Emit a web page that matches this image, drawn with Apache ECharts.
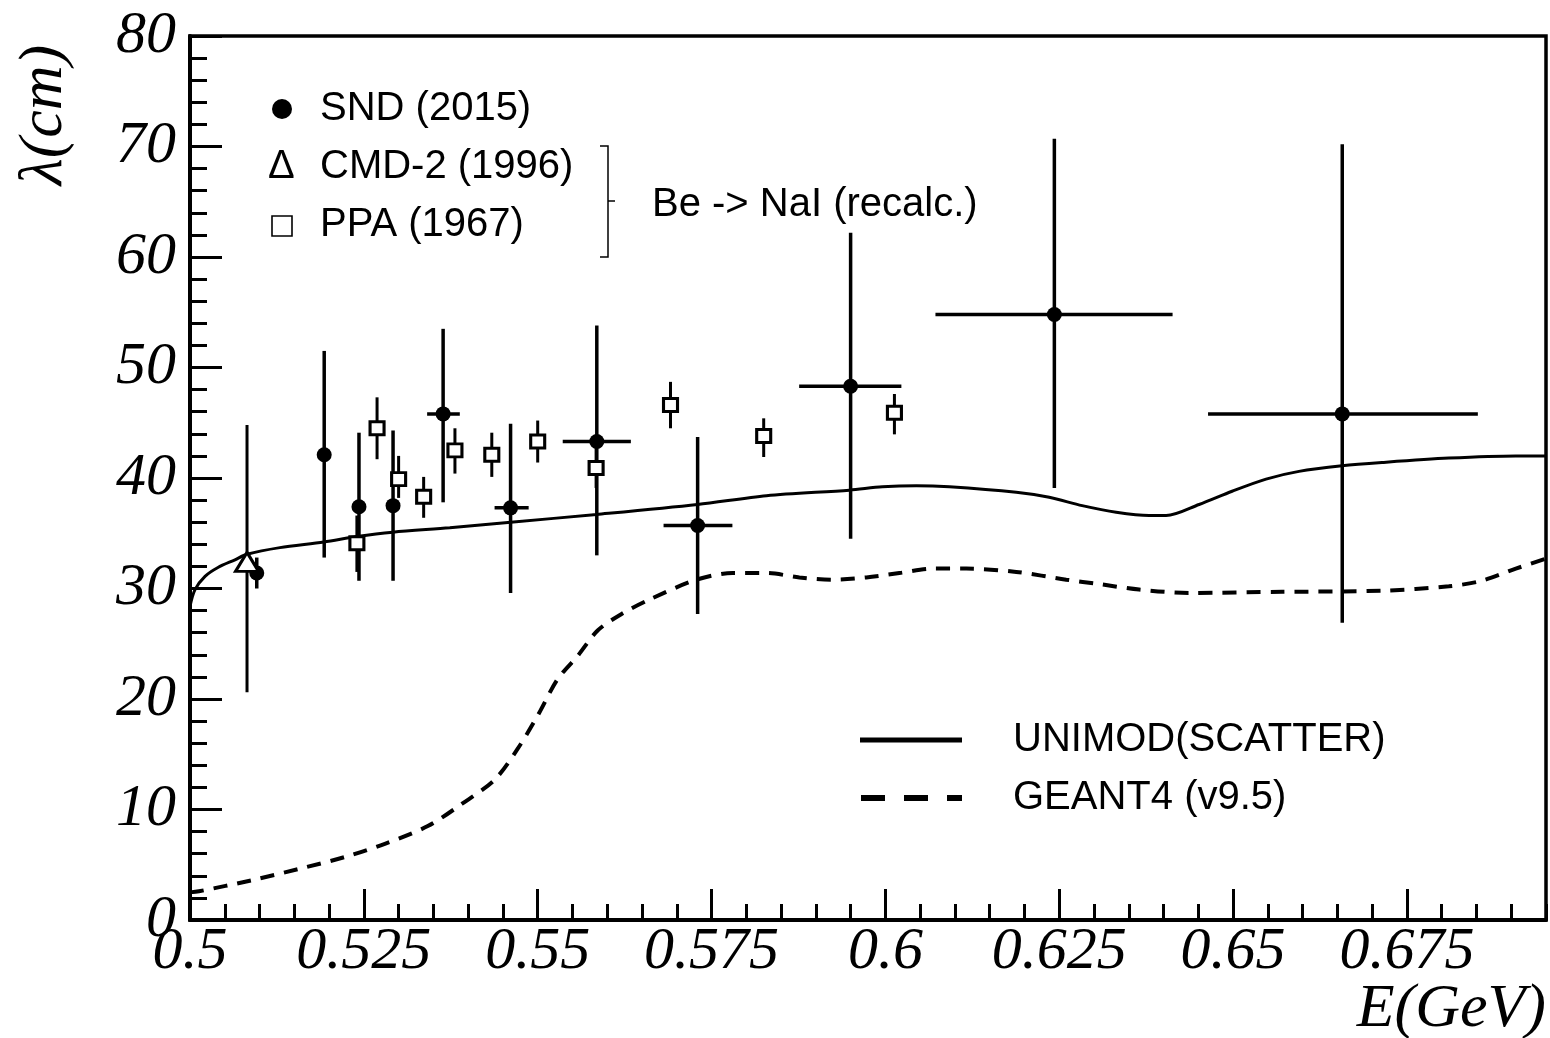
<!DOCTYPE html>
<html>
<head>
<meta charset="utf-8">
<script src="https://cdn.jsdelivr.net/npm/echarts@6/dist/echarts.min.js"></script>
<style>
html,body{margin:0;padding:0;background:#fff;}
#chart{width:1550px;height:1038px;}
</style>
</head>
<body>
<div id="chart"></div>
<script>
// ---- SND (2015): filled circles ----
const sndE      = [0.5096, 0.5193, 0.5243, 0.5292, 0.5364, 0.5461, 0.5585, 0.5730, 0.5950, 0.6243, 0.6657];
const sndLam    = [31.4, 42.1, 37.4, 37.5, 45.8, 37.3, 43.3, 35.7, 48.3, 54.8, 45.8];
const sndLamLo  = [30.0, 32.8, 30.7, 30.7, 37.8, 29.6, 33.0, 27.7, 34.5, 39.1, 26.9];
const sndLamHi  = [32.8, 51.5, 44.1, 44.3, 53.5, 44.9, 53.8, 43.7, 62.2, 70.7, 70.2];
const sndELo    = [null, null, null, null, 0.5341, 0.5438, 0.5536, 0.5681, 0.5876, 0.6072, 0.6464];
const sndEHi    = [null, null, null, null, 0.5388, 0.5487, 0.5634, 0.5780, 0.6023, 0.6413, 0.6852];

// ---- CMD-2 (1996): open triangle ----
const cmdE     = [0.5082];
const cmdLam   = [32.4];
const cmdLamLo = [20.6];
const cmdLamHi = [44.8];

// ---- PPA (1967): open squares ----
const ppaE     = [0.5240, 0.5269, 0.5300, 0.5336, 0.5381, 0.5434, 0.5500, 0.5584, 0.5691, 0.5825, 0.6013];
const ppaLam   = [34.1, 44.5, 39.9, 38.3, 42.5, 42.1, 43.3, 40.9, 46.6, 43.8, 45.9];
const ppaLamLo = [31.5, 41.7, 38.2, 36.4, 40.4, 40.1, 41.4, 39.1, 44.5, 41.9, 43.95];
const ppaLamHi = [36.6, 47.3, 42.0, 40.1, 44.5, 44.1, 45.2, 42.7, 48.7, 45.4, 47.6];

// ---- UNIMOD(SCATTER) curve ----
const uniE   = [0.5, 0.50072, 0.50216, 0.50402, 0.50647, 0.50819, 0.51293, 0.51925, 0.52399, 0.52917,
                0.53736, 0.54612, 0.55848, 0.57299, 0.5829, 0.59483, 0.59957, 0.60445, 0.6092, 0.61882,
                0.62356, 0.6283, 0.63319, 0.63793, 0.64037, 0.64511, 0.64986, 0.65474, 0.65948, 0.66566,
                0.67141, 0.68103, 0.69066, 0.695];
const uniLam = [28.4, 29.9, 31.1, 31.9, 32.6, 33.1, 33.7, 34.2, 34.7, 35.1,
                35.5, 36.0, 36.7, 37.6, 38.4, 38.9, 39.2, 39.3, 39.2, 38.7,
                38.25, 37.5, 36.9, 36.6, 36.6, 37.6, 38.8, 39.9, 40.6, 41.1,
                41.4, 41.8, 42.0, 42.0];

// ---- GEANT4 (v9.5) curve ----
const g4E   = [0.5, 0.50129, 0.50891, 0.51552, 0.52227, 0.52802, 0.5342, 0.53908, 0.54382, 0.54713,
               0.55, 0.55287, 0.55575, 0.55862, 0.56207, 0.56609, 0.57284, 0.57802, 0.5829, 0.58764,
               0.59239, 0.59727, 0.60201, 0.60675, 0.61164, 0.61882, 0.62601, 0.63075, 0.63649, 0.64368,
               0.65704, 0.67141, 0.68103, 0.68578, 0.69066, 0.695];
const g4Lam = [2.5, 2.6, 3.6, 4.6, 5.7, 6.9, 8.5, 10.5, 12.7, 15.5,
               18.5, 21.8, 23.9, 26.2, 27.7, 29.0, 30.8, 31.4, 31.4, 31.0,
               30.8, 31.0, 31.4, 31.8, 31.8, 31.5, 30.8, 30.4, 29.9, 29.6,
               29.7, 29.8, 30.2, 30.7, 31.8, 32.7];

const seriesNames = ['SND (2015)', 'CMD-2 (1996)', 'PPA (1967)', 'UNIMOD(SCATTER)', 'GEANT4 (v9.5)'];
const groupNote = 'Be -> NaI (recalc.)';
const xAxisTitle = 'E(GeV)';
const yAxisTitle = 'λ(cm)';

const serif = 'Liberation Serif';

function errRender(xs, lo, hi, xlo, xhi, w) {
  return function (params, api) {
    const i = params.dataIndex;
    const ch = [];
    const a = api.coord([xs[i], lo[i]]);
    const b = api.coord([xs[i], hi[i]]);
    ch.push({type: 'line', shape: {x1: a[0], y1: a[1], x2: b[0], y2: b[1]},
             style: {stroke: '#000', lineWidth: w}});
    if (xlo && xlo[i] != null) {
      const c = api.coord([xlo[i], api.value(1)]);
      const d = api.coord([xhi[i], api.value(1)]);
      ch.push({type: 'line', shape: {x1: c[0], y1: c[1], x2: d[0], y2: d[1]},
               style: {stroke: '#000', lineWidth: w}});
    }
    return {type: 'group', children: ch};
  };
}

const chart = echarts.init(document.getElementById('chart'), null, {renderer: 'canvas'});

const option = {
  animation: false,
  backgroundColor: '#fff',
  grid: {left: 190, right: 4, top: 36, bottom: 118, show: true, borderColor: '#000', borderWidth: 3.5, backgroundColor: 'transparent'},
  xAxis: [
    {
      type: 'value', min: 0.5, max: 0.695, interval: 0.025, position: 'bottom',
      axisLine: {show: true, lineStyle: {color: '#000', width: 4}},
      axisTick: {show: true, inside: true, length: 31, lineStyle: {color: '#000', width: 3}},
      splitLine: {show: false},
      axisLabel: {show: true, showMaxLabel: false, margin: 2, color: '#000', fontFamily: serif, fontStyle: 'italic', fontSize: 60,
                  formatter: function (v) { return String(+v.toFixed(3)); }}
    },
    {
      type: 'value', min: 0.5, max: 0.695, interval: 0.005, position: 'bottom', gridIndex: 0,
      axisLine: {show: false},
      axisTick: {show: true, inside: true, length: 16, lineStyle: {color: '#000', width: 3}},
      splitLine: {show: false},
      axisLabel: {show: false}
    }
  ],
  yAxis: {
    type: 'value', min: 0, max: 80, interval: 10,
    axisLine: {show: true, lineStyle: {color: '#000', width: 4}},
    axisTick: {show: true, inside: true, length: 32, lineStyle: {color: '#000', width: 3}},
    minorTick: {show: true, splitNumber: 5, length: 17, lineStyle: {color: '#000', width: 3}},
    splitLine: {show: false},
    axisLabel: {show: true, margin: 14, color: '#000', fontFamily: serif, fontStyle: 'italic', fontSize: 60}
  },
  series: [
    {
      name: seriesNames[3], type: 'line', smooth: 0.3, showSymbol: false, z: 2,
      lineStyle: {color: '#000', width: 3},
      data: uniE.map((x, i) => [x, uniLam[i]])
    },
    {
      name: seriesNames[4], type: 'line', smooth: 0.3, showSymbol: false, z: 2,
      lineStyle: {color: '#000', width: 4, type: [14, 10]},
      data: g4E.map((x, i) => [x, g4Lam[i]])
    },
    {
      type: 'custom', z: 3, renderItem: errRender(sndE, sndLamLo, sndLamHi, sndELo, sndEHi, 3.5),
      data: sndE.map((x, i) => [x, sndLam[i]])
    },
    {
      type: 'custom', z: 3, renderItem: errRender(ppaE, ppaLamLo, ppaLamHi, null, null, 3),
      data: ppaE.map((x, i) => [x, ppaLam[i]])
    },
    {
      type: 'custom', z: 3, renderItem: errRender(cmdE, cmdLamLo, cmdLamHi, null, null, 3),
      data: cmdE.map((x, i) => [x, cmdLam[i]])
    },
    {
      name: seriesNames[0], type: 'scatter', symbol: 'circle', symbolSize: 15, z: 4,
      itemStyle: {color: '#000', opacity: 1},
      data: sndE.map((x, i) => [x, sndLam[i]])
    },
    {
      name: seriesNames[2], type: 'scatter', symbol: 'rect', symbolSize: [14, 13], z: 4,
      itemStyle: {color: '#fff', borderColor: '#000', borderWidth: 3, opacity: 1},
      data: ppaE.map((x, i) => [x, ppaLam[i]])
    },
    {
      name: seriesNames[1], type: 'scatter', symbol: 'triangle', symbolSize: [23, 19], z: 4,
      itemStyle: {color: '#fff', borderColor: '#000', borderWidth: 3, opacity: 1},
      data: cmdE.map((x, i) => [x, cmdLam[i]])
    }
  ],
  graphic: [
    {type: 'text', x: 45, y: 115, rotation: Math.PI / 2, z: 10,
     style: {text: yAxisTitle, fill: '#000', font: 'italic 62px "Liberation Serif"', align: 'center', verticalAlign: 'middle'}},
    {type: 'text', x: 1546, y: 1010, z: 10,
     style: {text: xAxisTitle, fill: '#000', font: 'italic 62px "Liberation Serif"', align: 'right', verticalAlign: 'middle'}},
    {type: 'circle', shape: {cx: 282, cy: 109, r: 10}, style: {fill: '#000'}, z: 10},
    {type: 'text', x: 320, y: 109, z: 10, style: {text: seriesNames[0], fill: '#000', font: '40px "Liberation Sans"', verticalAlign: 'middle'}},
    {type: 'text', x: 268, y: 167, z: 10, style: {text: 'Δ', fill: '#000', font: '40px "Liberation Sans"', verticalAlign: 'middle'}},
    {type: 'text', x: 320, y: 167, z: 10, style: {text: seriesNames[1], fill: '#000', font: '40px "Liberation Sans"', verticalAlign: 'middle'}},
    {type: 'rect', shape: {x: 272, y: 216, width: 20, height: 20}, style: {fill: '#fff', stroke: '#000', lineWidth: 1.6}, z: 10},
    {type: 'text', x: 320, y: 225, z: 10, style: {text: seriesNames[2], fill: '#000', font: '40px "Liberation Sans"', verticalAlign: 'middle'}},
    {type: 'polyline', shape: {points: [[600, 146], [608, 146], [608, 257], [600, 257]]}, style: {stroke: '#000', lineWidth: 1.5, fill: null}, z: 10},
    {type: 'line', shape: {x1: 608, y1: 201, x2: 615, y2: 201}, style: {stroke: '#000', lineWidth: 1.5}, z: 10},
    {type: 'text', x: 652, y: 205, z: 10, style: {text: groupNote, fill: '#000', font: '40px "Liberation Sans"', verticalAlign: 'middle'}},
    {type: 'line', shape: {x1: 860, y1: 740, x2: 962, y2: 740}, style: {stroke: '#000', lineWidth: 5}, z: 10},
    {type: 'text', x: 1013, y: 740, z: 10, style: {text: seriesNames[3], fill: '#000', font: '40px "Liberation Sans"', verticalAlign: 'middle'}},
    {type: 'line', shape: {x1: 861, y1: 798, x2: 962, y2: 798}, style: {stroke: '#000', lineWidth: 6, lineDash: [24, 19]}, z: 10},
    {type: 'text', x: 1013, y: 798, z: 10, style: {text: seriesNames[4], fill: '#000', font: '40px "Liberation Sans"', verticalAlign: 'middle'}}
  ]
};
chart.setOption(option);
</script>
</body>
</html>
